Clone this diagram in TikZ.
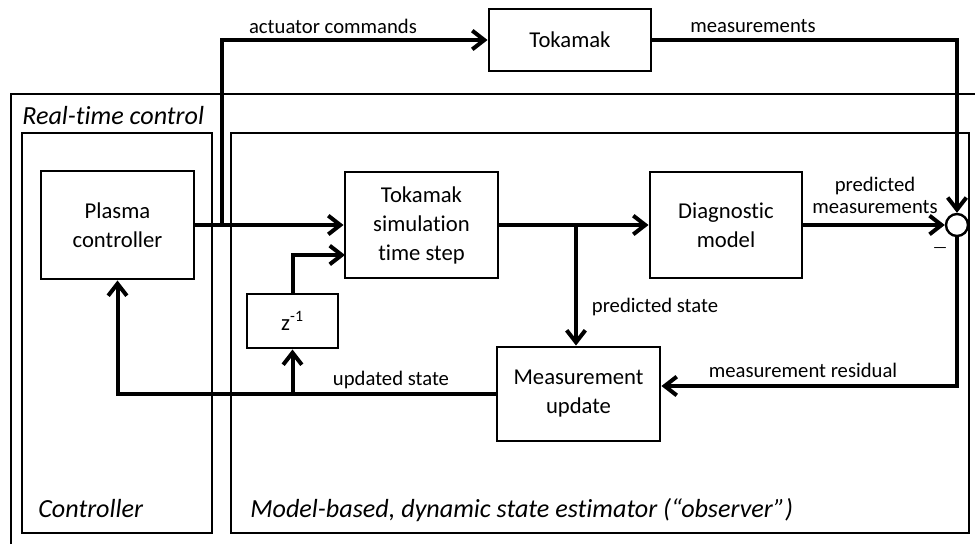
\documentclass[tikz,border=0pt]{standalone}
\usepackage{fontspec}
\setmainfont[Ligatures=NoCommon]{Carlito}
\usetikzlibrary{arrows.meta,calc}
\begin{document}
\begin{tikzpicture}[x=0.75pt,y=-0.75pt,
  box/.style={draw,line width=2.2pt,align=center,inner sep=0pt,
    font=\fontsize{17}{21.75}\selectfont},
  grp/.style={draw,line width=1.8pt},
  arr/.style={line width=3pt,-{Straight Barb[length=9pt,width=14pt]}},
  lbl/.style={font=\fontsize{15.5}{16.5}\selectfont,align=center},
  ital/.style={font=\fontsize{19.6}{21}\selectfont\itshape,anchor=base west,inner sep=0pt}]
\useasboundingbox (0,0) rectangle (975,544);
\fill[white] (0,0) rectangle (975,544);
% group frames
\draw[line width=1.5pt] (11,544) -- (11,94) -- (975,94);
\draw[grp] (22,133) rectangle (212,533);
\draw[grp] (231,133) rectangle (969,533);
\node[ital] (lrt) at (22,124) {Real-time control};
\node[ital] (lctl) at (38,517) {Controller};
\node[ital] (lest) at (250,517) {Model-based, dynamic state estimator (“observer”)};
% blocks
\node[box,minimum width=121.5pt,minimum height=46.5pt] (tok) at (570,40) {Tokamak};
\node[box,minimum width=114.75pt,minimum height=81pt] (pc) at (117.5,225) {Plasma\\controller};
\node[box,minimum width=114.75pt,minimum height=79.5pt] (sim) at (421.5,225) {Tokamak\\simulation\\time step};
\node[box,minimum width=114pt,minimum height=79.5pt] (diag) at (726,225) {Diagnostic\\model};
\node[box,minimum width=68.25pt,minimum height=40.5pt] (z) at (292.5,321) {z\textsuperscript{-1}};
\node[box,minimum width=122.25pt,minimum height=70.5pt] (mu) at (578.5,394) {Measurement\\update};
\node[draw,circle,fill=white,line width=1.8pt,minimum size=16.5pt,inner sep=0pt] (sum) at (957,225) {};
% connectors
\coordinate (a1) at (222,225);
\coordinate (b1) at (576,225);
\coordinate (simin2) at (345,255);
\draw[arr] (pc.east) -- (sim.west);
\draw[arr] (a1) |- (tok.west);
\draw[arr] (tok.east) -| (sum.north);
\draw[arr] (z.north) |- (simin2);
\draw[arr] (sim.east) -- (diag.west);
\draw[arr] (b1) -- (b1 |- mu.north);
\draw[arr] (diag.east) -- (sum.west);
\draw[arr] (sum.south) |- ($(mu.east)+(0,-8)$);
\draw[arr] (mu.west) -| (pc.south);
\draw[arr] (mu.west -| z.south) -- (z.south);
% labels
\node[lbl] (l1) at (333,26) {actuator commands};
\node[lbl] (l2) at (753,26) {measurements};
\node[lbl] (l3) at (875,195) {predicted\\measurements};
\node[lbl] (l4) at (655,307) {predicted state};
\node[lbl] (l5) at (391,380) {updated state};
\node[lbl] (l6) at (803,370) {measurement residual};
\node[font=\fontsize{12}{12}\selectfont,inner sep=0pt] (minus) at (940,250) {—};
\end{tikzpicture}
\end{document}
